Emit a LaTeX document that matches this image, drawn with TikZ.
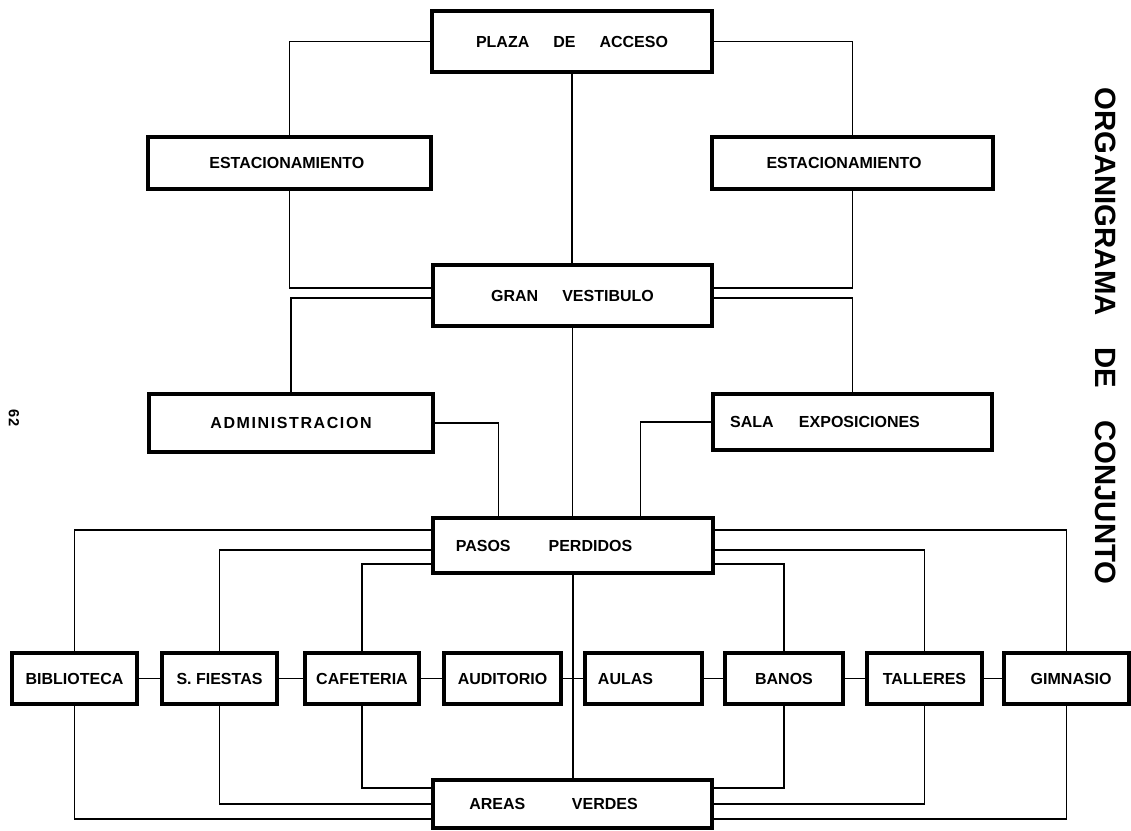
\documentclass[tikz,border=0pt]{standalone}
\usepackage{fontspec}
\setmainfont{Liberation Sans}
\usetikzlibrary{calc}
\begin{document}
\begin{tikzpicture}[x=0.75pt,y=-0.75pt,
  box/.style={draw,line width=2.5pt,inner sep=0pt,font=\bfseries\fontsize{12}{14}\selectfont},
  rowbox/.style={box,minimum height=38.25pt},
  link/.style={line width=1pt}]
\useasboundingbox (0,0) rectangle (1131,831);
% upper boxes
\node[box,minimum width=210pt,minimum height=45.75pt] (plaza) at (572,41.5) {PLAZA\hspace{18pt}DE\hspace{18pt}ACCESO};
\node[box,minimum width=212.25pt,minimum height=39pt] (estL) at (289.5,163) {ESTACIONAMIENTO\hspace*{4pt}};
\node[box,minimum width=210.75pt,minimum height=39pt] (estR) at (852.5,163) {ESTACIONAMIENTO\hspace*{12.75pt}};
\node[box,minimum width=209.25pt,minimum height=45.75pt] (gv) at (572.5,295.5) {GRAN\hspace{18pt}VESTIBULO};
\node[box,minimum width=213pt,minimum height=43.5pt] (admin) at (291,423) {\addfontfeature{LetterSpace=10}ADMINISTRACION};
\node[box,minimum width=209.25pt,minimum height=42pt] (sala) at (852.5,422) {SALA\hspace{19pt}EXPOSICIONES\hspace*{41.25pt}};
\node[box,minimum width=210pt,minimum height=41.25pt] (pp) at (573,545.5) {\raisebox{-3.4pt}{PASOS\hspace{28.5pt}PERDIDOS}\hspace*{43.5pt}};
% row
\node[rowbox,minimum width=93.75pt] (bib) at (74.5,678.5) {BIBLIOTECA};
\node[rowbox,minimum width=86.25pt] (sf) at (219.5,678.5) {S. FIESTAS};
\node[rowbox,minimum width=85.5pt] (caf) at (362,678.5) {CAFETERIA};
\node[rowbox,minimum width=87.75pt] (aud) at (502.5,678.5) {AUDITORIO};
\node[rowbox,minimum width=87.75pt] (aul) at (643.5,678.5) {AULAS\hspace*{27pt}};
\node[rowbox,minimum width=88.5pt] (ban) at (784,678.5) {BANOS};
\node[rowbox,minimum width=86.25pt] (tal) at (924.5,678.5) {TALLERES};
\node[rowbox,minimum width=93.75pt] (gim) at (1066.5,678.5) {\hspace*{7pt}GIMNASIO};
% bottom
\node[box,minimum width=209.25pt,minimum height=36pt] (av) at (572.5,804) {AREAS\hspace{35pt}VERDES\hspace*{28.5pt}};
% title and page number
\node[font=\bfseries\fontsize{22}{26}\selectfont,rotate=-90] (title) at (1106,336) {ORGANIGRAMA\hspace{24pt}DE\hspace{24pt}CONJUNTO};
\node[font=\bfseries\fontsize{11}{13}\selectfont,rotate=-90] (page) at (14,418) {62};
% connectors
\draw[link] (plaza.west) -| (estL.north);
\draw[link] (plaza.east) -| (estR.north);
\draw[link] (plaza.south) -- (plaza.south |- gv.north);
\draw[link] (estL.south) |- ($(gv.west)+(0,-7.5)$);
\draw[link] (estR.south) |- ($(gv.east)+(0,-7.5)$);
\draw[link] ($(gv.west)+(0,2.5)$) -| (admin.north);
\draw[link] ($(gv.east)+(0,2.5)$) -| (sala.north);
\draw[link] (gv.south) -- (gv.south |- pp.north);
\draw[link] (admin.east) -| ($(pp.north west)+(67,0)$);
\draw[link] (sala.west) -| ($(pp.north west)+(209,0)$);
\draw[link] ($(pp.west)+(0,-15.5)$) -| (bib.north);
\draw[link] ($(pp.west)+(0,4.5)$) -| (sf.north);
\draw[link] ($(pp.west)+(0,18.5)$) -| (caf.north);
\draw[link] ($(pp.east)+(0,-15.5)$) -| (gim.north);
\draw[link] ($(pp.east)+(0,4.5)$) -| (tal.north);
\draw[link] ($(pp.east)+(0,18.5)$) -| (ban.north);
\draw[link] (pp.south) -- (pp.south |- av.north);
\draw[link] (bib.south) |- ($(av.west)+(0,15)$);
\draw[link] (sf.south) |- (av.west);
\draw[link] (caf.south) |- ($(av.west)+(0,-16)$);
\draw[link] (gim.south) |- ($(av.east)+(0,15)$);
\draw[link] (tal.south) |- (av.east);
\draw[link] (ban.south) |- ($(av.east)+(0,-16)$);
\draw[link] (bib.east) -- (sf.west);
\draw[link] (sf.east) -- (caf.west);
\draw[link] (caf.east) -- (aud.west);
\draw[link] (aud.east) -- (aul.west);
\draw[link] (aul.east) -- (ban.west);
\draw[link] (ban.east) -- (tal.west);
\draw[link] (tal.east) -- (gim.west);
\end{tikzpicture}
\end{document}
